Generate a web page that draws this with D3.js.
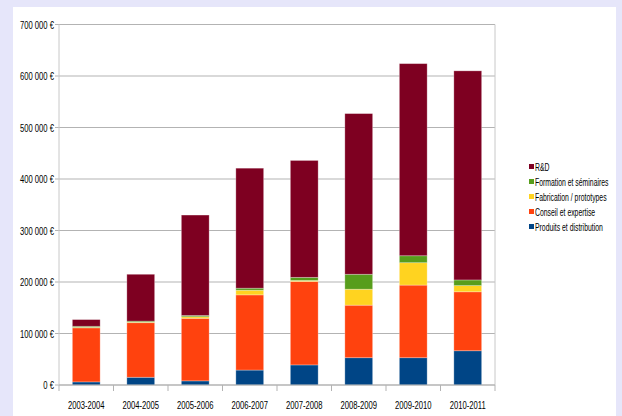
<!DOCTYPE html>
<html><head><meta charset="utf-8">
<script src="https://cdn.jsdelivr.net/npm/d3@7/dist/d3.min.js"></script>
<style>
html,body{margin:0;padding:0;background:#e6e6fa;}
svg{display:block;}
</style></head>
<body>
<svg id="c" width="622" height="416"></svg>
<script>
const categories = ["2003-2004","2004-2005","2005-2006","2006-2007","2007-2008","2008-2009","2009-2010","2010-2011"];
const seriesNames = ["Produits et distribution","Conseil et expertise","Fabrication / prototypes","Formation et séminaires","R&D"];
const produits    = [6000, 15000, 8000, 29000, 39000, 53000, 53000, 66500];
const conseil     = [105000, 106000, 121500, 146000, 162000, 102000, 141000, 114500];
const fabrication = [1000, 1000, 3000, 9000, 2000, 31000, 43500, 12000];
const formation   = [2000, 2000, 2500, 4000, 6000, 29000, 13500, 11000];
const rd          = [13000, 91000, 195000, 233000, 227000, 312000, 373000, 406000];
const yTicks = [0,100000,200000,300000,400000,500000,600000,700000];
const colors = ["#004586","#ff420e","#ffd320","#579d1c","#7e0021"];

const svg = d3.select("#c");
const font = "'Liberation Sans',Arial,sans-serif";
const SX = 0.66;
svg.append("rect").attr("x",13).attr("y",7).attr("width",603).attr("height",420).attr("fill","#fff");

const m = {l:59, r:495, t:24.5, b:385};
const x = d3.scaleBand().domain(categories).range([m.l,m.r]).paddingInner(0.49).paddingOuter(0.245);
const y = d3.scaleLinear().domain([0,700000]).range([m.b,m.t]);

// gridlines
svg.append("g").selectAll("line").data(yTicks).join("line")
  .attr("x1",m.l-4).attr("x2",m.r).attr("y1",d=>y(d)).attr("y2",d=>y(d))
  .attr("stroke","#b3b3b3").attr("stroke-width",1);
// frame verticals
svg.append("line").attr("x1",m.l).attr("x2",m.l).attr("y1",m.t).attr("y2",m.b).attr("stroke","#c8c8c8");
svg.append("line").attr("x1",m.r).attr("x2",m.r).attr("y1",m.t).attr("y2",m.b).attr("stroke","#c8c8c8");

// y labels
const fmt = v => (v===0 ? "0" : d3.format(",")(v).replace(/,/g," ")) + " €";
svg.append("g").selectAll("text").data(yTicks).join("text")
  .attr("transform",d=>`translate(${m.l-5},${y(d)+4}) scale(${SX},1)`).attr("text-anchor","end")
  .attr("font-family",font).attr("font-size",11.6).attr("fill","#000").text(fmt);

// stacked bars
const rows = categories.map((c,i)=>({cat:c, s0:produits[i], s1:conseil[i], s2:fabrication[i], s3:formation[i], s4:rd[i]}));
const stack = d3.stack().keys(["s0","s1","s2","s3","s4"])(rows);
svg.append("g").selectAll("g").data(stack).join("g").attr("fill",(d,i)=>colors[i])
  .selectAll("rect").data(d=>d).join("rect")
  .attr("x",d=>x(d.data.cat)).attr("width",x.bandwidth())
  .attr("y",d=>y(d[1])).attr("height",d=>y(d[0])-y(d[1]))
  .attr("stroke","rgba(255,255,255,0.35)").attr("stroke-width",0.8);

// x axis
svg.append("line").attr("x1",m.l).attr("x2",m.r).attr("y1",m.b).attr("y2",m.b).attr("stroke","#b3b3b3");
const bounds = d3.range(categories.length+1).map(i=>m.l + i*(m.r-m.l)/categories.length);
svg.append("g").selectAll("line").data(bounds).join("line")
  .attr("x1",d=>d).attr("x2",d=>d).attr("y1",m.b).attr("y2",m.b+6).attr("stroke","#b3b3b3");
svg.append("g").selectAll("text").data(categories).join("text")
  .attr("transform",d=>`translate(${x(d)+x.bandwidth()/2},409) scale(${SX},1)`).attr("text-anchor","middle")
  .attr("font-family",font).attr("font-size",11.6).attr("fill","#000").text(d=>d);

// legend
const legendOrder = [4,3,2,1,0];
const lg = svg.append("g").selectAll("g").data(legendOrder).join("g")
  .attr("transform",(d,i)=>`translate(529,${167+i*15})`);
lg.append("rect").attr("x",0).attr("y",-3).attr("width",5).attr("height",5).attr("fill",d=>colors[d]);
lg.append("text").attr("transform",`translate(6,3.5) scale(${SX},1)`).attr("font-family",font).attr("font-size",10.4)
  .attr("fill","#000").text(d=>seriesNames[d]);
</script>
</body></html>
